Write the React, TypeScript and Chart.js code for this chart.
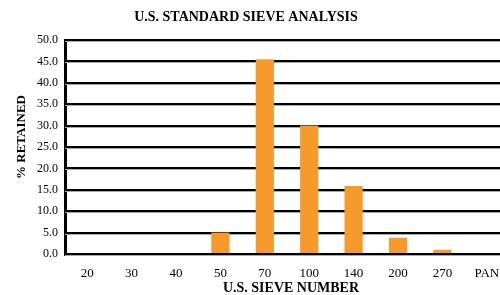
import React, { useEffect, useRef } from "react";
import { Chart, registerables } from "chart.js";

Chart.register(...registerables);

const sieveNumbers = ["20", "30", "40", "50", "70", "100", "140", "200", "270", "PAN"];
const percentRetained = [0, 0, 0, 5.0, 45.5, 30.0, 15.9, 3.8, 1.0, 0];
const chartTitle = "U.S. STANDARD SIEVE ANALYSIS";
const xTitle = "U.S. SIEVE NUMBER";
const yTitle = "% RETAINED";

const FONT = "'Liberation Serif', 'Times New Roman', serif";

const shadowPlugin = {
  id: "gridShadow",
  beforeDatasetsDraw(chart: any) {
    const ctx = chart.ctx;
    const y = chart.scales.y;
    const area = chart.chartArea;
    ctx.save();
    ctx.strokeStyle = "#a8a8a8";
    ctx.lineWidth = 1;
    y.ticks.forEach((t: any) => {
      const py = Math.round(y.getPixelForValue(t.value)) + 1.5;
      ctx.beginPath();
      ctx.moveTo(area.left, py);
      ctx.lineTo(area.right, py);
      ctx.stroke();
    });
    ctx.restore();
  },
};

const titlesPlugin = {
  id: "customTitles",
  afterDraw(chart: any) {
    const ctx = chart.ctx;
    ctx.save();
    ctx.fillStyle = "#000";
    ctx.textAlign = "center";
    ctx.textBaseline = "middle";
    ctx.font = `bold 14px ${FONT}`;
    ctx.fillText(chartTitle, 246, 17);
    ctx.fillText(xTitle, 291, 288);
    ctx.font = `bold 13px ${FONT}`;
    ctx.translate(22, 137);
    ctx.rotate(-Math.PI / 2);
    ctx.fillText(yTitle, 0, 0);
    ctx.restore();
  },
};

export default function App() {
  const ref = useRef<HTMLCanvasElement>(null);
  useEffect(() => {
    if (!ref.current) return;
    const chart = new Chart(ref.current, {
      type: "bar",
      data: {
        labels: sieveNumbers,
        datasets: [
          {
            data: percentRetained,
            backgroundColor: "#F79A2C",
            borderWidth: 0,
            barPercentage: 0.41,
            categoryPercentage: 1,
          },
        ],
      },
      plugins: [shadowPlugin, titlesPlugin],
      options: {
        responsive: false,
        animation: false,
        devicePixelRatio: 1,
        layout: { padding: { left: 0, right: 11, top: 40, bottom: 0 } },
        plugins: {
          legend: { display: false },
          tooltip: { enabled: false },
          title: { display: false },
        },
        scales: {
          x: {
            grid: { display: false, drawTicks: false },
            border: { display: true, color: "#000", width: 3 },
            ticks: {
              color: "#000",
              font: { family: FONT, size: 13 },
              padding: 12,
              maxRotation: 0,
              autoSkip: false,
            },
            afterFit: (s: any) => {
              s.height = 41;
            },
          },
          y: {
            min: 0,
            max: 50,
            grid: { color: "#000", lineWidth: 2, drawTicks: false },
            border: { display: true, color: "#000", width: 3 },
            ticks: {
              stepSize: 5,
              color: "#000",
              font: { family: FONT, size: 12 },
              padding: 7,
              callback: (v: any) => Number(v).toFixed(1),
            },
            afterFit: (s: any) => {
              s.width = 65;
            },
          },
        },
      },
    });
    return () => chart.destroy();
  }, []);
  return (
    <div
      style={{
        position: "fixed",
        left: 0,
        top: 0,
        width: 500,
        height: 295,
        overflow: "hidden",
        background: "#fff",
      }}
    >
      <canvas ref={ref} width={520} height={295} style={{ display: "block", width: 520, height: 295 }} />
    </div>
  );
}
